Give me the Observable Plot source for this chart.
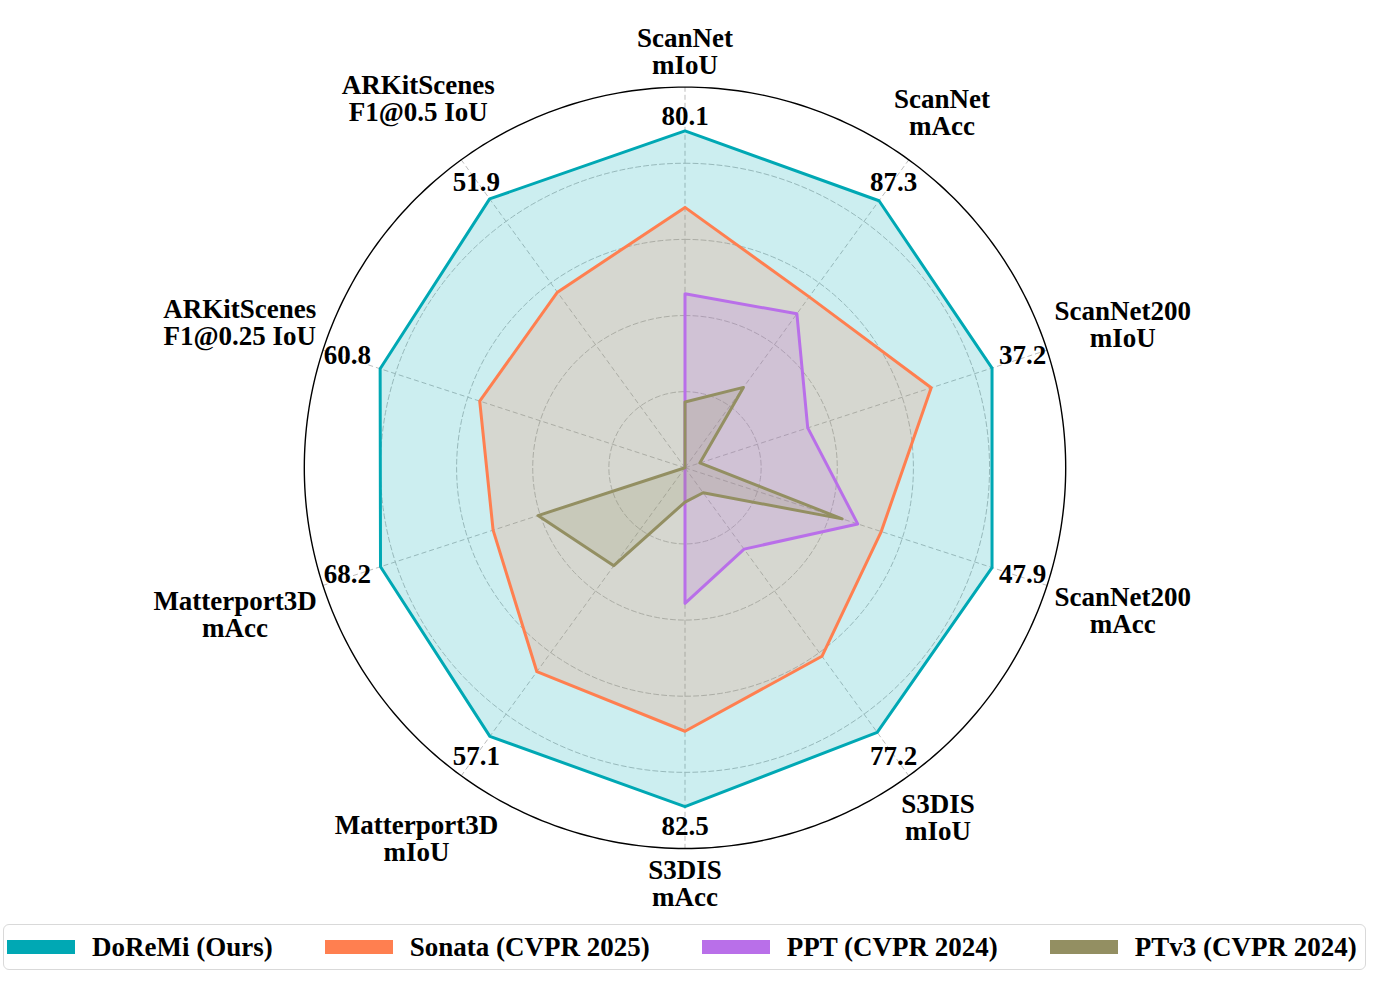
<!DOCTYPE html>
<html><head><meta charset="utf-8">
<script src="https://cdn.jsdelivr.net/npm/d3@7"></script>
<script src="https://cdn.jsdelivr.net/npm/@observablehq/plot@0.6"></script>
<style>
body{margin:0;background:#fff;font-family:"Liberation Serif","Times New Roman",serif;}
#chart svg{display:block}
#legend{position:absolute;left:3px;top:924px;width:1363px;height:46px;box-sizing:border-box;border:1.5px solid #d9d9d9;border-radius:6px;display:flex;align-items:center;padding-left:3px;}
.item{display:flex;align-items:center;font-weight:bold;font-size:27px;margin-right:52px;white-space:nowrap;color:#000;}
.sw{width:68px;height:14px;margin-right:17px;}
</style></head><body>
<div id="chart"></div>
<div id="legend"></div>
<script>
// ---- data ----
const axisLabels = ["ScanNet\nmIoU","ScanNet\nmAcc","ScanNet200\nmIoU","ScanNet200\nmAcc","S3DIS\nmIoU","S3DIS\nmAcc","Matterport3D\nmIoU","Matterport3D\nmAcc","ARKitScenes\nF1@0.25 IoU","ARKitScenes\nF1@0.5 IoU"];
const doremiText = ["80.1","87.3","37.2","47.9","77.2","82.5","57.1","68.2","60.8","51.9"];
const seriesNames = ["DoReMi (Ours)","Sonata (CVPR 2025)","PPT (CVPR 2024)","PTv3 (CVPR 2024)"];
const seriesColors = ["#00a8b4","#ff7f50","#b96fe9","#938f62"];
// normalized radial scores (fraction of outer ring)
const doremi = [0.885,0.867,0.848,0.848,0.859,0.890,0.872,0.841,0.842,0.873];
const sonata = [0.684,0.555,0.680,0.542,0.612,0.692,0.662,0.530,0.567,0.570];
const ppt    = [0.457,0.500,0.339,0.477,0.264,0.356,0,0,0,0];
const ptv3   = [0.173,0.261,0.041,0.434,0.081,0.090,0.318,0.406,0,0];
const gridLevels = [0.2,0.4,0.6,0.8];

// ---- layout ----
const W = 1376, H = 918, R = 380.7, cx = 684.5, cy = 467.3;
const N = axisLabels.length;
const ang = i => i * 2 * Math.PI / N;
const FONT = "'Liberation Serif','Times New Roman',serif";
const FS = 27;

const allSeries = [doremi, sonata, ppt, ptv3];
const polys = allSeries.map((vals, s) => vals.map((v, i) => ({s, x: v * Math.sin(ang(i)), y: v * Math.cos(ang(i))})));

const circlePts = [];
for (const lv of gridLevels) {
  for (let k = 0; k < 240; k++) {
    const a = k / 240 * 2 * Math.PI;
    circlePts.push({lv, x: lv * Math.sin(a), y: lv * Math.cos(a)});
  }
}
const outerPts = d3.range(360).map(k => ({x: Math.sin(k / 360 * 2 * Math.PI), y: Math.cos(k / 360 * 2 * Math.PI)}));
const spokes = d3.range(N).map(i => ({x2: Math.sin(ang(i)), y2: Math.cos(ang(i))}));

// measure text for axis label placement
const ctx = document.createElement("canvas").getContext("2d");
ctx.font = `bold ${FS}px ${FONT}`;
const Ra = 387;
const labelPos = axisLabels.map((t, i) => {
  const lines = t.split("\n");
  const w = d3.max(lines, l => ctx.measureText(l).width);
  const h = lines.length * FS;
  const s = Math.sin(ang(i)), c = Math.cos(ang(i));
  const d = (Ra + (w / 2) * Math.abs(s) + (h / 2) * Math.abs(c)) / R;
  return {text: t, x: d * s, y: d * c, dy: -2 * c};
});
const valuePos = doremiText.map((t, i) => {
  const s = Math.sin(ang(i));
  return {text: t, x: 0.9325 * s, y: 0.9325 * Math.cos(ang(i)), dy: 4 - 7.7 * s * s};
});

const marks = [
  Plot.line(circlePts, {x: "x", y: "y", z: "lv", curve: "linear-closed", stroke: "#bdbdbd", strokeWidth: 1, strokeDasharray: "5,3"}),
  Plot.link(spokes, {x1: 0, y1: 0, x2: "x2", y2: "y2", stroke: "#bdbdbd", strokeWidth: 1, strokeDasharray: "5,3"})
];
polys.forEach((p, s) => {
  marks.push(Plot.line(p, {x: "x", y: "y", curve: "linear-closed", stroke: seriesColors[s], strokeWidth: 3, fill: seriesColors[s], fillOpacity: 0.2, strokeLinejoin: "round"}));
});
marks.push(Plot.line(outerPts, {x: "x", y: "y", curve: "linear-closed", stroke: "#000", strokeWidth: 1.4}));
valuePos.forEach(v => {
  marks.push(Plot.text([v], {x: "x", y: "y", text: "text", fontSize: FS, fontWeight: "bold", fill: "#000", textAnchor: "middle", lineAnchor: "middle", dy: v.dy}));
});
labelPos.forEach(v => {
  marks.push(Plot.text([v], {x: "x", y: "y", text: "text", fontSize: FS, fontWeight: "bold", fill: "#000", textAnchor: "middle", lineAnchor: "middle", lineHeight: 1.0, dy: v.dy}));
});

const chart = Plot.plot({
  width: W, height: H,
  marginTop: 0, marginRight: 0, marginBottom: 0, marginLeft: 0,
  x: {domain: [-cx / R, (W - cx) / R], axis: null},
  y: {domain: [-(H - cy) / R, cy / R], axis: null},
  style: {fontFamily: FONT, background: "#fff", overflow: "visible"},
  marks
});
document.getElementById("chart").appendChild(chart);

// legend
const lg = document.getElementById("legend");
seriesNames.forEach((n, i) => {
  const it = document.createElement("div");
  it.className = "item";
  const sw = document.createElement("div");
  sw.className = "sw";
  sw.style.background = seriesColors[i];
  const tx = document.createElement("span");
  tx.textContent = n;
  it.appendChild(sw); it.appendChild(tx);
  lg.appendChild(it);
});
</script>
</body></html>
